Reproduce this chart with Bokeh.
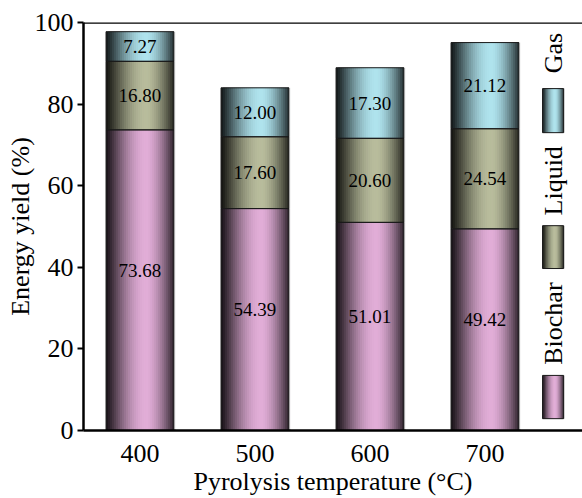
import math
from bokeh.plotting import figure
from bokeh.models import ColumnDataSource, FixedTicker, Span, Range1d
from bokeh.core.properties import value
from bokeh.embed import file_html
from bokeh.resources import INLINE

# ---- data ----
temperatures = [400, 500, 600, 700]
biochar = [73.68, 54.39, 51.01, 49.42]
liquid = [16.80, 17.60, 20.60, 24.54]
gas = [7.27, 12.00, 17.30, 21.12]
series_names = ["Biochar", "Liquid", "Gas"]
series_colors = ["#e2aed8", "#b9bd9d", "#b0e4ee"]
y_ticks = [0, 20, 40, 60, 80, 100]

FONT = "Liberation Serif"
BAR_W = 59.0
N_STRIPES = 34


def shade(hex_color, t):
    t0 = 0.6
    if t <= t0:
        u = t / t0
        f = 0.10 + 0.90 * math.sin(math.pi / 2 * u) ** 1.1
    else:
        u = (t - t0) / (1 - t0)
        f = 1.0 - 0.80 * u ** 1.6
    r = int(hex_color[1:3], 16)
    g = int(hex_color[3:5], 16)
    b = int(hex_color[5:7], 16)
    return "#%02x%02x%02x" % (int(r * f), int(g * f), int(b * f))


p = figure(width=582, height=498, output_backend="svg", toolbar_location=None,
           x_range=Range1d(350.9, 784.8), y_range=Range1d(0, 100),
           min_border_left=83, min_border_right=0, min_border_top=22, min_border_bottom=68)
p.outline_line_color = None
p.xgrid.visible = False
p.ygrid.visible = False
p.background_fill_color = "white"


def draw_shaded(xs, bottoms, tops, width, color):
    sx, sb, st, sc = [], [], [], []
    step = width / N_STRIPES
    for x, b0, t0 in zip(xs, bottoms, tops):
        for i in range(N_STRIPES):
            t = (i + 0.5) / N_STRIPES
            sx.append(x - width / 2 + i * step + step)
            sb.append(b0)
            st.append(t0)
            sc.append(shade(color, t))
    src = ColumnDataSource(dict(x=sx, bottom=sb, top=st, color=sc))
    p.vbar(x="x", bottom="bottom", top="top", width=2 * step,
           fill_color="color", line_color=None, source=src)


def outline(xs, bottoms, tops, width):
    p.vbar(x=xs, bottom=bottoms, top=tops, width=width, fill_alpha=0,
           line_color="#1a1a1a", line_width=1)


stack = [biochar, liquid, gas]
base = [0.0] * len(temperatures)
label_src = dict(x=[], y=[], text=[], yoff=[])
segments = []
for k, vals in enumerate(stack):
    tops = [b + v for b, v in zip(base, vals)]
    segments.append((list(base), tops, series_colors[k]))
    for x, b0, v in zip(temperatures, base, vals):
        label_src["x"].append(x)
        label_src["y"].append(b0 + v / 2)
        label_src["text"].append("%.2f" % v)
        label_src["yoff"].append(-10 if k == 0 else 0)
    base = tops

for bottoms, tops, color in segments:
    draw_shaded(temperatures, bottoms, tops, BAR_W, color)

# white mask right of each bar (covers the overhang of the last stripe)
mask_w = BAR_W / N_STRIPES
p.vbar(x=[t + BAR_W / 2 + mask_w / 2 + 0.05 for t in temperatures], bottom=0.2,
       top=[b + 0.5 for b in base], width=mask_w, fill_color="white", line_color=None)

for bottoms, tops, color in segments:
    outline(temperatures, bottoms, tops, BAR_W)

p.text(x="x", y="y", text="text", y_offset="yoff", source=ColumnDataSource(label_src),
       text_font=value(FONT), text_font_size="19px", text_align="center",
       text_baseline="middle", text_color="black")

# ---- legend (manual, rotated) ----
leg_x = 759.2
leg_w = 18.3
patch_bottoms = [2.9, 39.7, 73.0]
patch_tops = [13.5, 50.2, 83.8]
text_y = [26.2, 61.2, 92.5]
for k in range(3):
    draw_shaded([leg_x], [patch_bottoms[k]], [patch_tops[k]], leg_w, series_colors[k])
lm = leg_w / N_STRIPES
p.vbar(x=[leg_x + leg_w / 2 + lm / 2 + 0.05], bottom=0, top=90, width=lm,
       fill_color="white", line_color=None)
for k in range(3):
    outline([leg_x], [patch_bottoms[k]], [patch_tops[k]], leg_w)
p.text(x=[leg_x] * 3, y=text_y, text=series_names, angle=math.pi / 2,
       text_font=value(FONT), text_font_size="26px", text_align="center",
       text_baseline="middle", text_color="black")

# ---- axes ----
p.xaxis.ticker = FixedTicker(ticks=temperatures)
p.yaxis.ticker = FixedTicker(ticks=y_ticks)
p.xaxis.axis_label = "Pyrolysis temperature (\u00b0C)"
p.yaxis.axis_label = "Energy yield (%)"
for ax in (p.xaxis[0], p.yaxis[0]):
    ax.axis_line_width = 2.5
    ax.axis_line_color = "black"
    ax.major_label_text_font = FONT
    ax.major_label_text_font_size = "26px"
    ax.major_label_text_color = "black"
    ax.axis_label_text_font = FONT
    ax.axis_label_text_font_size = "26px"
    ax.axis_label_text_font_style = "normal"
    ax.axis_label_text_color = "black"
    ax.minor_tick_line_color = None
p.xaxis.major_tick_line_color = None
p.xaxis.major_label_standoff = 8
p.xaxis.axis_label_standoff = 2
p.yaxis.major_tick_out = 6
p.yaxis.major_tick_in = 0
p.yaxis.major_tick_line_width = 2
p.yaxis.major_label_standoff = 4
p.yaxis.axis_label_standoff = -3

p.add_layout(Span(location=100, dimension="width", line_color="black", line_width=2.5))

open("out.html", "w").write(file_html(p, INLINE))
